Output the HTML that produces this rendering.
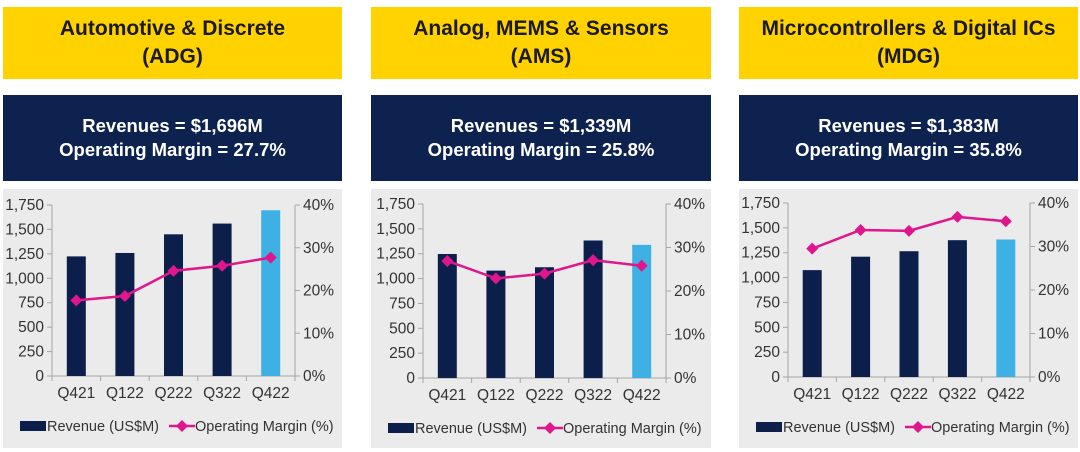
<!DOCTYPE html>
<html><head><meta charset="utf-8"><style>
body{margin:0;width:1080px;height:452px;background:#fff;overflow:hidden;font-family:"Liberation Sans",Arial,sans-serif}
.box{position:absolute;display:flex;flex-direction:column;justify-content:center;align-items:center;font-weight:bold;text-align:center;line-height:28px}
.y{background:#FFD200;color:#1a1a1a;font-size:21px}
.n{background:#0E2250;color:#fff;font-size:18.5px;line-height:24px}
svg{position:absolute;left:0;top:0}
</style></head><body>
<div class="box y" style="left:3px;top:7px;width:339px;height:72px">Automotive &amp; Discrete<br>(ADG)</div>
<div class="box y" style="left:371px;top:7px;width:340px;height:72px">Analog, MEMS &amp; Sensors<br>(AMS)</div>
<div class="box y" style="left:739px;top:7px;width:339px;height:72px">Microcontrollers &amp; Digital ICs<br>(MDG)</div>
<div class="box n" style="left:3px;top:95px;width:339px;height:86px">Revenues = $1,696M<br>Operating Margin = 27.7%</div>
<div class="box n" style="left:371px;top:95px;width:340px;height:86px">Revenues = $1,339M<br>Operating Margin = 25.8%</div>
<div class="box n" style="left:739px;top:95px;width:339px;height:86px">Revenues = $1,383M<br>Operating Margin = 35.8%</div>
<svg id="c" width="1080" height="452"></svg>
<script>
const categories=["Q421","Q122","Q222","Q322","Q422"];
const revenueADG=[1224,1259,1450,1560,1696];
const marginADG=[17.7,18.7,24.6,25.8,27.7];
const revenueAMS=[1247,1080,1114,1383,1339];
const marginAMS=[26.9,22.9,24.0,27.1,25.8];
const revenueMDG=[1075,1210,1265,1376,1383];
const marginMDG=[29.5,33.8,33.6,36.8,35.8];
const leftTicks=[0,250,500,750,1000,1250,1500,1750];
const rightTicks=[0,10,20,30,40];
const svg=document.getElementById('c');
const NS='http://www.w3.org/2000/svg';
function mk(t,a,p){const e=document.createElementNS(NS,t);for(const k in a)e.setAttribute(k,a[k]);(p||svg).appendChild(e);return e;}
function fmt(v){return v.toLocaleString('en-US');}
function chart(name,px,pw,x0,x1,yTop,y0,rev,mar){
  const g=mk('g',{});
  
  
  const bg=mk('rect',{x:px,y:189,width:pw,height:259,fill:'#EBEBEB'},g);
  
  
  const ys=v=>y0-(v/1750)*(y0-yTop);
  const yr=v=>y0-(v/40)*(y0-yTop);
  const bw=(x1-x0)/categories.length;
  const xc=i=>x0+bw*(i+0.5);
  mk('line',{x1:x0,y1:yTop,x2:x0,y2:y0,stroke:'#A6A6A6'},g);
  mk('line',{x1:x1,y1:yTop,x2:x1,y2:y0,stroke:'#A6A6A6'},g);
  mk('line',{x1:x0,y1:y0,x2:x1,y2:y0,stroke:'#A6A6A6'},g);
  leftTicks.forEach(v=>{const y=ys(v);mk('line',{x1:x0-5,y1:y,x2:x0,y2:y,stroke:'#A6A6A6'},g);
    const t=mk('text',{x:x0-8,y:y+5,'text-anchor':'end','font-size':'15.5',fill:'#333'},g);t.textContent=fmt(v);
    });
  rightTicks.forEach(v=>{const y=yr(v);mk('line',{x1:x1,y1:y,x2:x1+5,y2:y,stroke:'#A6A6A6'},g);
    const t=mk('text',{x:x1+8,y:y+5,'font-size':'15.5',fill:'#333'},g);t.textContent=v+'%';
    });
  for(let i=0;i<=categories.length;i++){const x=x0+bw*i;mk('line',{x1:x,y1:y0,x2:x,y2:y0+5,stroke:'#A6A6A6'},g);}
  categories.forEach((c,i)=>{
    const b=mk('rect',{x:xc(i)-9.5,y:ys(rev[i]),width:19,height:y0-ys(rev[i]),fill:i===4?'#3FB0E4':'#0C1F4A'},g);
    
    
    const t=mk('text',{x:xc(i),y:y0+22,'text-anchor':'middle','font-size':'15.5',fill:'#333'},g);t.textContent=c;
    
  });
  const pts=mar.map((m,i)=>xc(i)+','+yr(m)).join(' ');
  const pl=mk('polyline',{points:pts,fill:'none',stroke:'#E0168C','stroke-width':2.5},g);
  
  
  mar.forEach((m,i)=>{const x=xc(i),y=yr(m);
    const d=mk('polygon',{points:`${x},${y-6} ${x+6},${y} ${x},${y+6} ${x-6},${y}`,fill:'#E0168C'},g);
    
    });
  const ly=y0+50;
  const lg=mk('g',{},g);
  
  
  mk('rect',{x:px+17,y:ly-5,width:26,height:10,fill:'#0C1F4A'},lg);
  let t=mk('text',{x:px+44,y:ly+5,'font-size':'14.5',fill:'#333'},lg);t.textContent='Revenue (US$M)';
  mk('line',{x1:px+166,y1:ly,x2:px+192,y2:ly,stroke:'#E0168C','stroke-width':2.5},lg);
  mk('polygon',{points:`${px+179},${ly-6} ${px+185},${ly} ${px+179},${ly+6} ${px+173},${ly}`,fill:'#E0168C'},lg);
  t=mk('text',{x:px+192,y:ly+5,'font-size':'14.5',fill:'#333'},lg);t.textContent='Operating Margin (%)';
}
chart('adg',3,339,52,295,205,376,revenueADG,marginADG);
chart('ams',371,340,423,666,204,378,revenueAMS,marginAMS);
chart('mdg',739,339,788,1030,203,377,revenueMDG,marginMDG);
</script>
</body></html>
